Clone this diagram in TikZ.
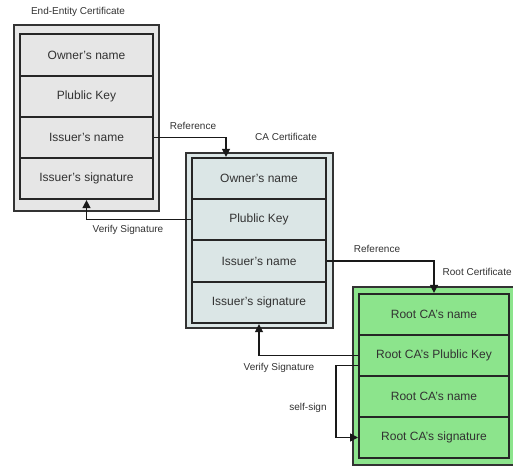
\documentclass[tikz,border=0pt]{standalone}
\usepackage{fontspec}
\setmainfont{Liberation Sans}
\usetikzlibrary{arrows.meta}

\definecolor{eegray}{RGB}{230,230,230}
\definecolor{cablue}{RGB}{219,230,230}
\definecolor{rootgreen}{RGB}{140,228,140}
\definecolor{txtgray}{RGB}{50,50,50}

\tikzset{
  field/.style={draw=black!85, line width=1.5pt, minimum width=#1, minimum height=30.9pt, inner sep=0pt, font=\fontsize{9}{10}\selectfont, text=txtgray},
  frame/.style={draw=black!80, line width=1.1pt},
  lbl/.style={font=\fontsize{7.5}{9}\selectfont, text=txtgray},
  link/.style={draw=black!90, line width=1pt, -{Triangle[length=6pt,width=6pt]}}
}

\begin{document}
\begin{tikzpicture}[x=0.75pt,y=0.75pt,yscale=-1,xscale=1]
\useasboundingbox (0,0) rectangle (513,467);

%Shape: Rectangle [frame end-entity]
\draw [frame, fill=eegray] (14,25) rectangle (159,211);
%Shape: Rectangle [frame ca]
\draw [frame, fill=cablue] (186,153) rectangle (333,328);
%Shape: Rectangle [frame root]
\draw [frame, fill=rootgreen] (353,287) rectangle (518,465);

% End-Entity fields
\node [field=99.75pt, fill=eegray] (ee0) at (86.5,55) {Owner's name};
\node [field=99.75pt, fill=eegray] (ee1) at (86.5,96.5) {Plublic Key};
\node [field=99.75pt, fill=eegray] (ee2) at (86.5,137.5) {Issuer's name};
\node [field=99.75pt, fill=eegray] (ee3) at (86.5,178.5) {Issuer's signature};

% CA fields
\node [field=100.5pt, fill=cablue] (ca0) at (259,178.5) {Owner's name};
\node [field=100.5pt, fill=cablue] (ca1) at (259,219.5) {Plublic Key};
\node [field=100.5pt, fill=cablue] (ca2) at (259,261) {Issuer's name};
\node [field=100.5pt, fill=cablue] (ca3) at (259,302.5) {Issuer's signature};

% Root fields
\node [field=112.5pt, fill=rootgreen] (rt0) at (434,314.5) {Root CA's name};
\node [field=112.5pt, fill=rootgreen] (rt1) at (434,355.5) {Root CA's Plublic Key};
\node [field=112.5pt, fill=rootgreen] (rt2) at (434,396.5) {Root CA's name};
\node [field=112.5pt, fill=rootgreen] (rt3) at (434,437.5) {Root CA's signature};

%Straight Lines [reference]
\draw [link] (ee2.east) -| ([xshift=-24.75pt]ca0.north);
\draw [link] (ca2.east) -| (rt0.north);
%Straight Lines [verify]
\draw [link] (ca1.west) -| (ee3.south);
\draw [link] (rt1.west) -| (ca3.south);
%Straight Lines [self-sign]
\draw [link] ([yshift=7.5pt]rt1.west) -- ++(-16.5pt,0) |- (rt3.west);

% Text Node
\node [lbl] (t-ee) at (78,12) {End-Entity Certificate};
% Text Node
\node [lbl] (t-ca) at (286,137) {CA Certificate};
% Text Node
\node [lbl, anchor=west] (t-rt) at (438,272) {Root Certificate};
% Text Node
\node [lbl] (l-ref1) at (193,126) {Reference};
% Text Node
\node [lbl] (l-ver1) at (128,230) {Verify Signature};
% Text Node
\node [lbl] (l-ref2) at (377,249) {Reference};
% Text Node
\node [lbl] (l-ver2) at (279,368) {Verify Signature};
% Text Node
\node [lbl] (l-self) at (308,408) {self-sign};

\end{tikzpicture}
\end{document}
